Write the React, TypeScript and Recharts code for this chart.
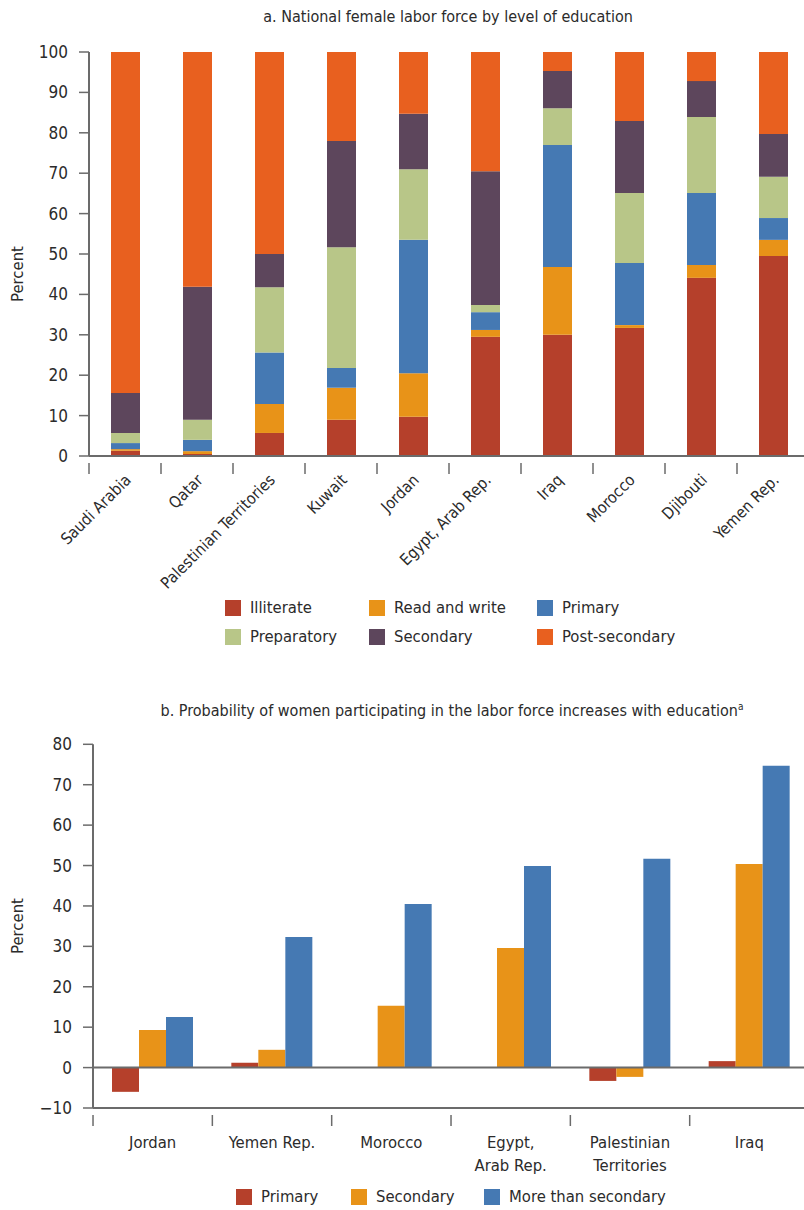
import React from "react";
import { BarChart, Bar, XAxis, YAxis, ReferenceLine } from "recharts";

const FONT = "'DejaVu Sans Condensed', 'Liberation Sans Narrow', sans-serif";
const TEXT = "#2b2b2b";
const AXIS = "#6b6b6b";

// panel a
const countriesA = [
  "Saudi Arabia",
  "Qatar",
  "Palestinian Territories",
  "Kuwait",
  "Jordan",
  "Egypt, Arab Rep.",
  "Iraq",
  "Morocco",
  "Djibouti",
  "Yemen Rep.",
];
const illiterate = [1.3, 0.5, 5.7, 9.0, 9.7, 29.5, 30.0, 31.7, 44.1, 49.5];
const readWrite = [0.4, 0.7, 7.2, 7.9, 10.8, 1.7, 16.8, 0.7, 3.2, 4.0];
const primaryA = [1.5, 2.8, 12.7, 4.9, 33.0, 4.4, 30.2, 15.4, 17.8, 5.4];
const preparatory = [2.5, 5.0, 16.2, 29.9, 17.5, 1.8, 9.1, 17.3, 18.8, 10.2];
const secondaryA = [9.9, 32.9, 8.2, 26.3, 13.7, 33.1, 9.2, 17.8, 8.9, 10.6];
const postSecondary = [84.4, 58.1, 50.0, 22.0, 15.3, 29.5, 4.7, 17.1, 7.2, 20.3];
const ticksA = [0, 10, 20, 30, 40, 50, 60, 70, 80, 90, 100];

// panel b
const countriesB = [
  "Jordan",
  "Yemen Rep.",
  "Morocco",
  "Egypt,\nArab Rep.",
  "Palestinian\nTerritories",
  "Iraq",
];
const primaryB = [-6.0, 1.2, 0, 0, -3.3, 1.6];
const secondaryB = [9.3, 4.4, 15.3, 29.6, -2.3, 50.4];
const moreThanSecondary = [12.5, 32.3, 40.5, 49.9, 51.7, 74.7];
const ticksB = [-10, 0, 10, 20, 30, 40, 50, 60, 70, 80];

const seriesA = [
  { key: "illiterate", name: "Illiterate", color: "#B5402B", values: illiterate },
  { key: "readWrite", name: "Read and write", color: "#E89318", values: readWrite },
  { key: "primary", name: "Primary", color: "#4579B3", values: primaryA },
  { key: "preparatory", name: "Preparatory", color: "#B8C688", values: preparatory },
  { key: "secondary", name: "Secondary", color: "#5D465C", values: secondaryA },
  { key: "post", name: "Post-secondary", color: "#E8601F", values: postSecondary },
];

const seriesB = [
  { key: "primary", name: "Primary", color: "#B5402B", values: primaryB },
  { key: "secondary", name: "Secondary", color: "#E89318", values: secondaryB },
  { key: "more", name: "More than secondary", color: "#4579B3", values: moreThanSecondary },
];

const dataA = countriesA.map((c, i) => {
  const row: Record<string, any> = { name: c };
  seriesA.forEach((s) => (row[s.key] = s.values[i]));
  return row;
});

const dataB = countriesB.map((c, i) => {
  const row: Record<string, any> = { name: c };
  seriesB.forEach((s) => (row[s.key] = s.values[i]));
  return row;
});

const RotatedTick = (props: any) => {
  const { x, y, payload, band } = props;
  const tx = x + 7;
  const ty = y + 17;
  return (
    <g>
      <line x1={x - band / 2} y1={y - 1} x2={x - band / 2} y2={y + 10} stroke={AXIS} strokeWidth={1.5} />
      <text
        x={tx}
        y={ty}
        transform={`rotate(-45, ${tx}, ${ty})`}
        textAnchor="end"
        fontSize={16}
        fill={TEXT}
        fontFamily={FONT}
      >
        {payload.value}
      </text>
    </g>
  );
};

const FlatTick = (props: any) => {
  const { x, y, payload, band } = props;
  const lines = String(payload.value).split("\n");
  return (
    <g>
      <line x1={x - band / 2} y1={y - 1} x2={x - band / 2} y2={y + 10} stroke={AXIS} strokeWidth={1.5} />
      {lines.map((l, i) => (
        <text
          key={i}
          x={x}
          y={y + 32 + i * 23}
          textAnchor="middle"
          fontSize={16.5}
          fill={TEXT}
          fontFamily={FONT}
        >
          {l}
        </text>
      ))}
    </g>
  );
};

const yLabel = (cy: number) => () =>
  (
    <text
      x={23}
      y={cy}
      transform={`rotate(-90, 23, ${cy})`}
      textAnchor="middle"
      fontSize={16.5}
      fill={TEXT}
      fontFamily={FONT}
    >
      Percent
    </text>
  );

const LegendItem = ({ color, name, left, top }: any) => (
  <div style={{ position: "absolute", left, top, display: "flex", alignItems: "center", whiteSpace: "nowrap" }}>
    <span style={{ width: 16, height: 16, background: color, display: "inline-block", marginRight: 9 }} />
    <span style={{ fontSize: 16.5, color: TEXT, fontFamily: FONT, lineHeight: "20px" }}>{name}</span>
  </div>
);

export default function App() {
  const legendColsA = [225, 369, 537];
  const legendColsB = [236, 351, 484];
  return (
    <div
      style={{
        position: "absolute",
        left: 0,
        top: 0,
        width: 804,
        height: 1210,
        overflow: "hidden",
        background: "#fff",
        fontFamily: FONT,
      }}
    >
      <div
        style={{
          position: "absolute",
          top: 7,
          left: 0,
          width: 896,
          textAlign: "center",
          fontSize: 16,
          color: TEXT,
          whiteSpace: "nowrap",
        }}
      >
        a. National female labor force by level of education
      </div>
      <div style={{ position: "absolute", left: 0, top: 0 }}>
        <BarChart
          width={810}
          height={600}
          data={dataA}
          margin={{ top: 52, right: 1, left: 0, bottom: 0 }}
          barSize={29}
        >
          <XAxis
            dataKey="name"
            interval={0}
            height={144}
            tickLine={false}
            axisLine={{ stroke: AXIS, strokeWidth: 2 }}
            tick={<RotatedTick band={72} />}
          />
          <YAxis
            width={89}
            domain={[0, 100]}
            ticks={ticksA}
            interval={0}
            tickSize={10}
            tickMargin={11}
            axisLine={{ stroke: AXIS, strokeWidth: 2 }}
            tickLine={{ stroke: AXIS, strokeWidth: 1.5 }}
            tick={{ fontSize: 17, fill: TEXT, fontFamily: FONT }}
            label={yLabel(274)}
          />
          {seriesA.map((s) => (
            <Bar key={s.key} dataKey={s.key} name={s.name} stackId="a" fill={s.color} isAnimationActive={false} />
          ))}
        </BarChart>
      </div>
      {seriesA.map((s, i) => (
        <LegendItem
          key={s.key}
          color={s.color}
          name={s.name}
          left={legendColsA[i % 3]}
          top={i < 3 ? 598 : 627}
        />
      ))}

      <div
        style={{
          position: "absolute",
          top: 701,
          left: 0,
          width: 904,
          textAlign: "center",
          fontSize: 16,
          color: TEXT,
          whiteSpace: "nowrap",
        }}
      >
        b. Probability of women participating in the labor force increases with education
        <sup style={{ fontSize: 10 }}>a</sup>
      </div>
      <div style={{ position: "absolute", left: 0, top: 700 }}>
        <BarChart
          width={810}
          height={480}
          data={dataB}
          margin={{ top: 44.3, right: 1, left: 0, bottom: 0 }}
          barSize={27}
          barGap={0}
        >
          <XAxis
            dataKey="name"
            interval={0}
            height={72}
            tickLine={false}
            axisLine={{ stroke: AXIS, strokeWidth: 2 }}
            tick={<FlatTick band={119.3} />}
          />
          <YAxis
            width={93}
            domain={[-10, 80]}
            ticks={ticksB}
            interval={0}
            tickSize={10}
            tickMargin={11}
            axisLine={{ stroke: AXIS, strokeWidth: 2 }}
            tickLine={{ stroke: AXIS, strokeWidth: 1.5 }}
            tick={{ fontSize: 17, fill: TEXT, fontFamily: FONT }}
            tickFormatter={(v: number) => (v < 0 ? `\u2212${Math.abs(v)}` : String(v))}
            label={yLabel(226)}
          />
          {seriesB.map((s) => (
            <Bar key={s.key} dataKey={s.key} name={s.name} fill={s.color} isAnimationActive={false} />
          ))}
          <ReferenceLine y={0} stroke={AXIS} strokeWidth={2} />
        </BarChart>
      </div>
      {seriesB.map((s, i) => (
        <LegendItem key={s.key} color={s.color} name={s.name} left={legendColsB[i]} top={1187} />
      ))}
    </div>
  );
}
